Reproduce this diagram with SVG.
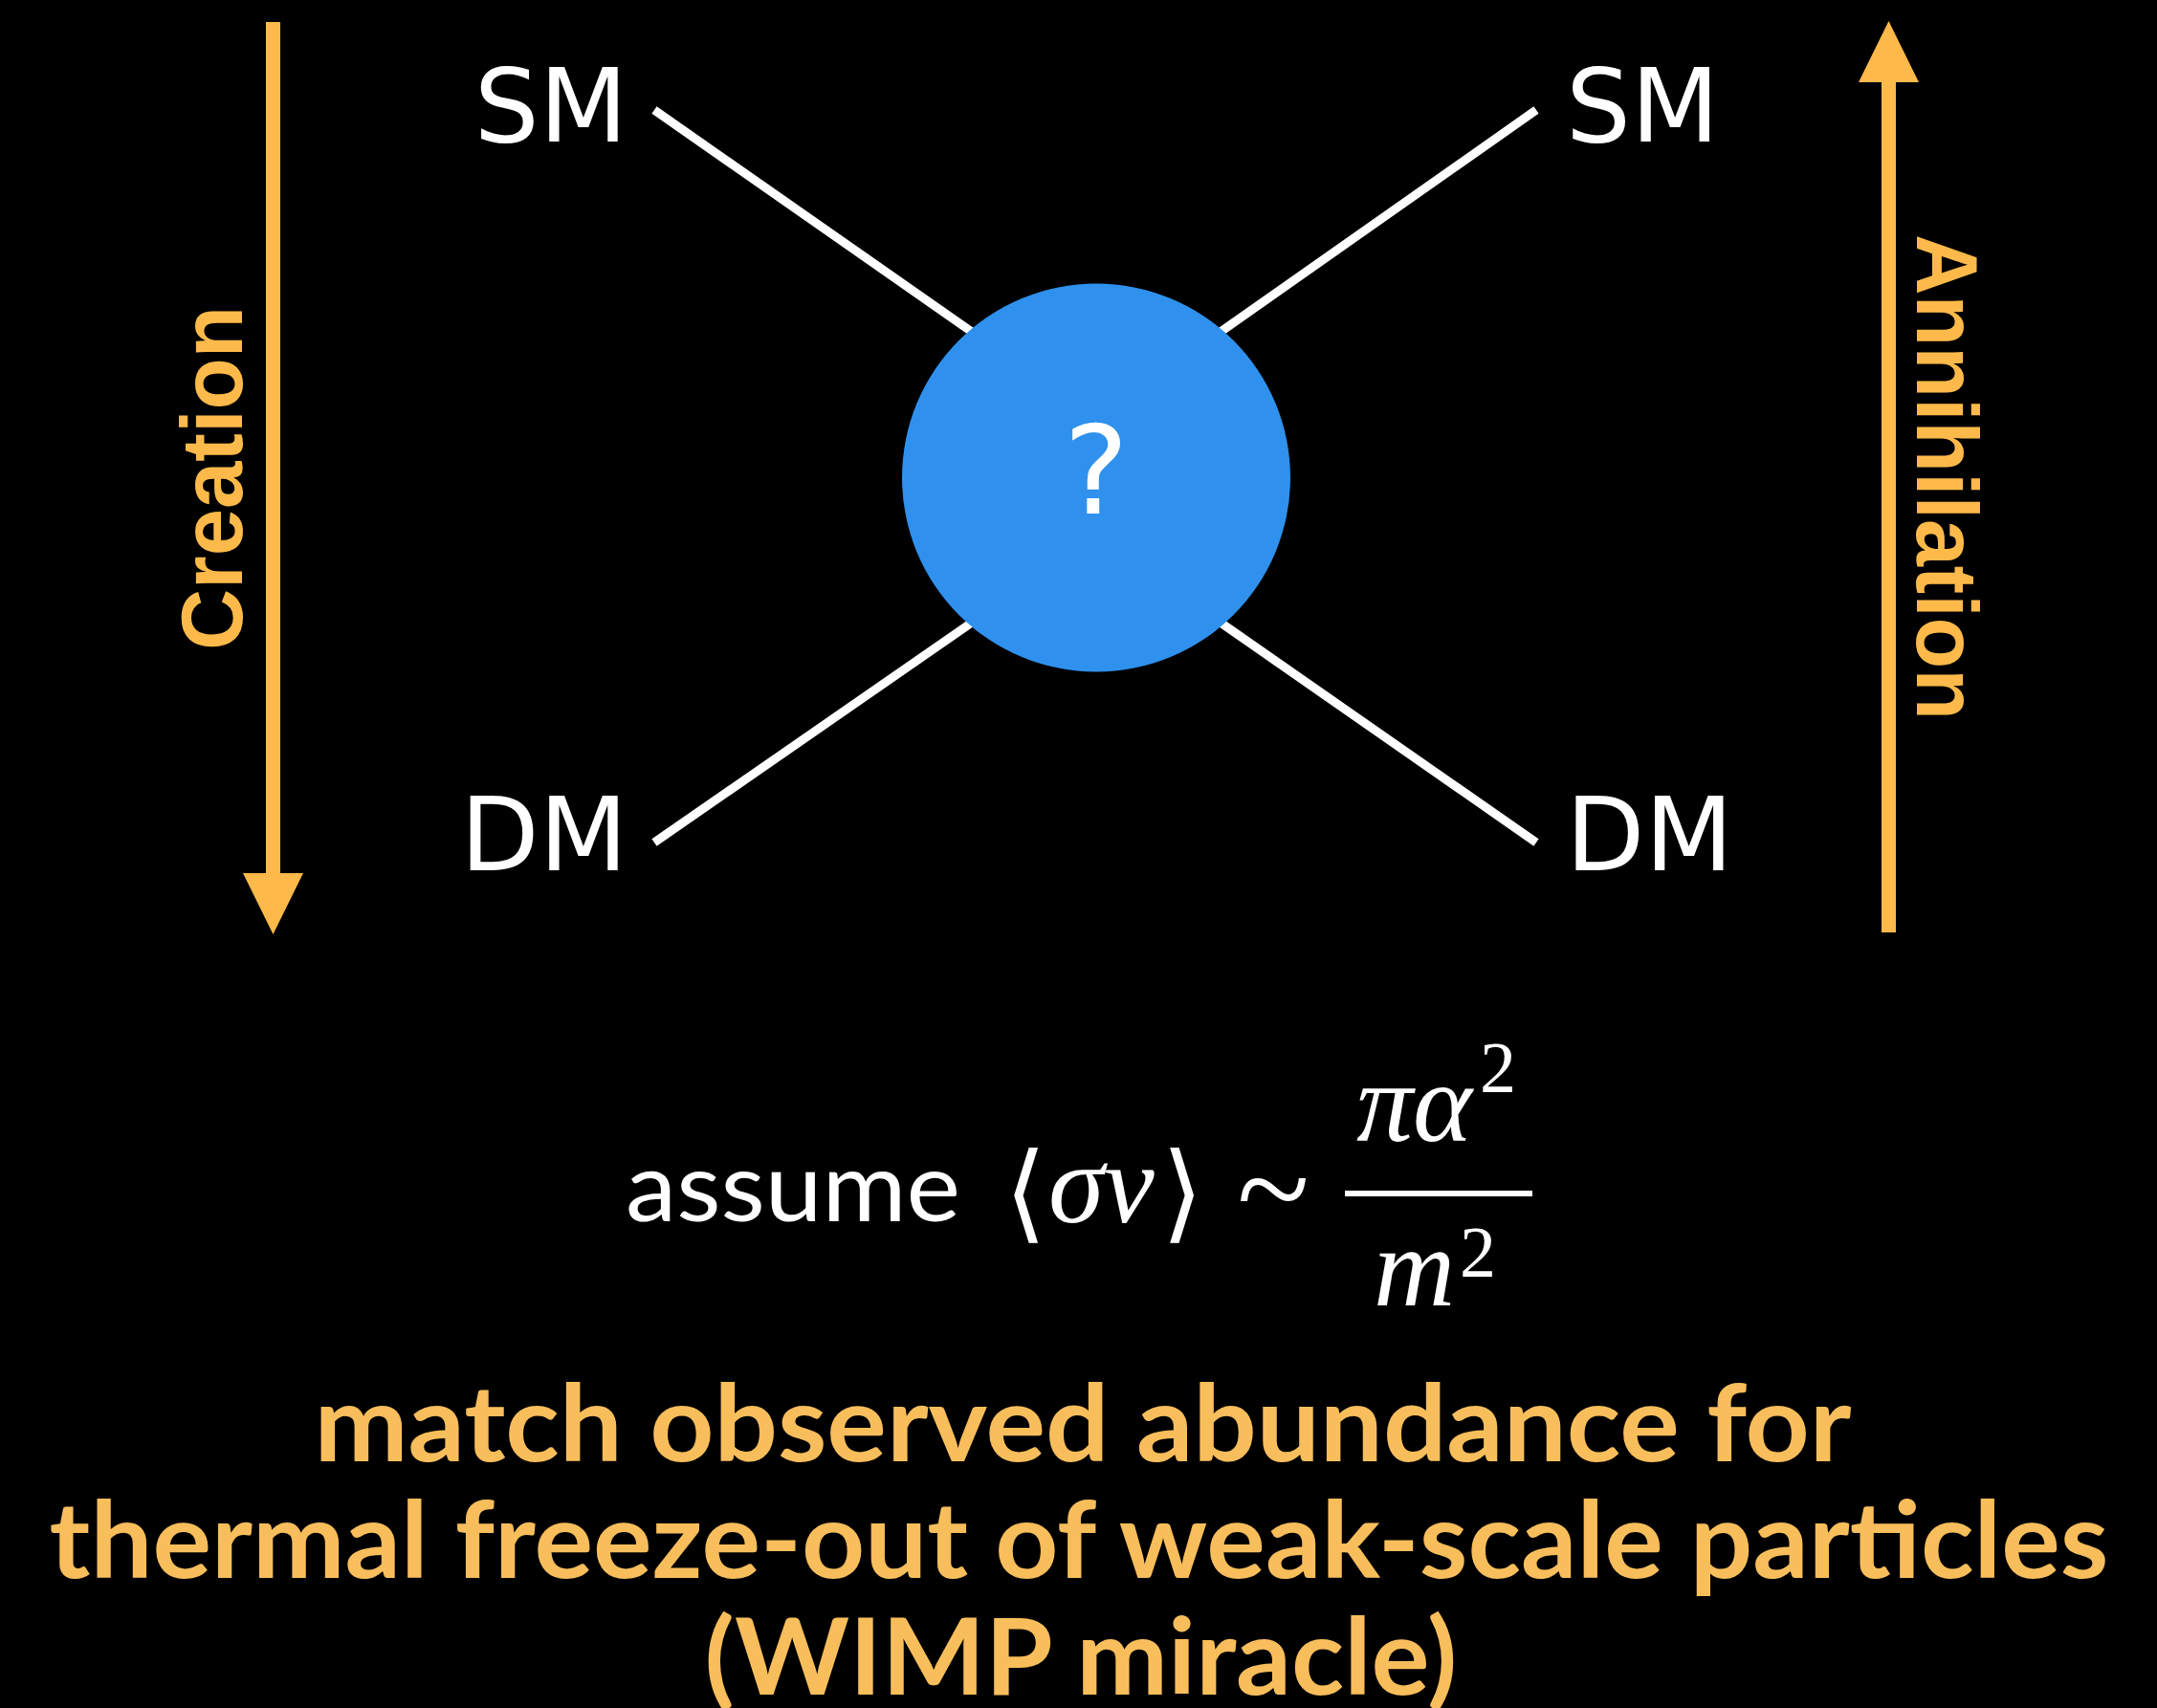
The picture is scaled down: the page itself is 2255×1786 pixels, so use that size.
<svg xmlns="http://www.w3.org/2000/svg" width="2255" height="1786" viewBox="0 0 2255 1786">
  <style>
    .lbl { font-family: "DejaVu Sans", sans-serif; font-size: 107px; fill: #ffffff; }
    .leg { stroke: #ffffff; stroke-width: 9; fill: none; }
    .arr { stroke: #FDBA4A; stroke-width: 15; fill: none; }
    .side { font-family: "Liberation Sans", Arial, sans-serif; font-weight: bold; font-size: 91px; fill: #FDBA4A; }
    .math { font-family: "Liberation Serif", "Times New Roman", serif; font-style: italic; fill: #ffffff; }
    .bottom { font-family: Lato, "Open Sans", sans-serif; font-weight: bold; font-size: 112px; fill: #F8BE5C; }
  </style>
  <defs>
    <marker id="head" viewBox="0 0 64 63" refX="0" refY="31.5" markerWidth="64" markerHeight="63" markerUnits="userSpaceOnUse" orient="auto">
      <path d="M0,0 L64,31.5 L0,63 Z" fill="#FDBA4A"/>
    </marker>
  </defs>
  <rect x="0" y="0" width="2255" height="1786" fill="#000000"/>

  <g id="connectors">
    <line class="leg" x1="684" y1="115" x2="1016" y2="347"/>
    <line class="leg" x1="1606" y1="115" x2="1276" y2="347"/>
    <line class="leg" x1="684" y1="881" x2="1016" y2="651"/>
    <line class="leg" x1="1606" y1="881" x2="1276" y2="651"/>
  </g>

  <g id="blob">
    <circle cx="1146" cy="499.5" r="203" fill="#2F91ED"/>
    <text x="1146" y="537" text-anchor="middle" font-family="DejaVu Sans, sans-serif" font-size="128" fill="#ffffff">?</text>
  </g>

  <g id="sm-left"><text class="lbl" x="656" y="148" text-anchor="end">SM</text></g>
  <g id="sm-right"><text class="lbl" x="1637" y="148">SM</text></g>
  <g id="dm-left"><text class="lbl" x="656" y="910" text-anchor="end">DM</text></g>
  <g id="dm-right"><text class="lbl" x="1637" y="910">DM</text></g>

  <g id="creation">
    <line class="arr" x1="285.5" y1="23" x2="285.5" y2="913" marker-end="url(#head)"/>
    <text class="side" transform="translate(253,500) rotate(-90)" text-anchor="middle" textLength="360" lengthAdjust="spacingAndGlyphs">Creation</text>
  </g>

  <g id="annihilation">
    <line class="arr" x1="1974.5" y1="975" x2="1974.5" y2="86" marker-end="url(#head)"/>
    <text class="side" transform="translate(2004,499) rotate(90)" text-anchor="middle" textLength="508" lengthAdjust="spacingAndGlyphs">Annihilation</text>
  </g>

  <g id="formula">
    <text x="654" y="1277" font-family="Lato, 'Open Sans', sans-serif" font-size="100" fill="#ffffff" textLength="350" lengthAdjust="spacingAndGlyphs">assume</text>
    <text x="1072" y="1285" text-anchor="middle" font-family="DejaVu Serif, serif" font-size="112" fill="#ffffff">⟨</text>
    <text class="math" x="1096" y="1278" font-size="118">σv</text>
    <text x="1236" y="1285" text-anchor="middle" font-family="DejaVu Serif, serif" font-size="112" fill="#ffffff">⟩</text>
    <text x="1331" y="1290" text-anchor="middle" font-family="Liberation Serif, serif" font-size="140" fill="#ffffff">~</text>
    <rect x="1406" y="1245" width="196" height="6" fill="#ffffff"/>
    <text class="math" x="1418" y="1193" font-size="118">πα</text>
    <text x="1547" y="1142" font-family="Liberation Serif, serif" font-size="76" fill="#ffffff">2</text>
    <text class="math" x="1436" y="1365" font-size="118">m</text>
    <text x="1526" y="1335" font-family="Liberation Serif, serif" font-size="76" fill="#ffffff">2</text>
  </g>

  <g id="conclusion">
    <text class="bottom" x="1132" y="1528" text-anchor="middle" textLength="1607" lengthAdjust="spacingAndGlyphs">match observed abundance for</text>
    <text class="bottom" x="1128" y="1650" text-anchor="middle" textLength="2153" lengthAdjust="spacingAndGlyphs">thermal freeze-out of weak-scale particles</text>
    <text class="bottom" x="1130" y="1772" text-anchor="middle" textLength="787" lengthAdjust="spacingAndGlyphs">(WIMP miracle)</text>
  </g>
</svg>
